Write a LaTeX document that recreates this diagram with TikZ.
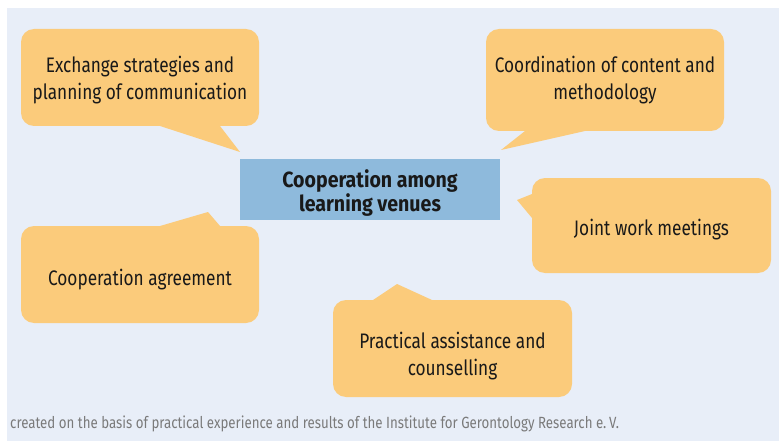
\documentclass[tikz,border=0pt]{standalone}
\usepackage{fontspec}
\setmainfont[FakeStretch=0.82]{Fira Sans}
\newfontfamily\hubfont[FakeStretch=0.89]{Fira Sans}
\definecolor{bgblue}{HTML}{E8EEF8}
\definecolor{calloutfill}{HTML}{FBCB7B}
\definecolor{hubfill}{HTML}{8EBADC}
\definecolor{capgrey}{HTML}{7A7A7A}
\tikzset{
    callout/.style={fill=calloutfill, rounded corners=13pt, inner sep=0pt, align=center,
        text depth=0pt, font=\fontsize{21}{27}\selectfont, text=black!90},
    tail/.style={fill=calloutfill},
    hub/.style={fill=hubfill, inner sep=0pt, align=center, text depth=0pt,
        font=\hubfont\fontsize{22}{24.5}\selectfont\bfseries, text=black!90},
}
\begin{document}
\begin{tikzpicture}[x=1pt, y=-1pt]
            \useasboundingbox (0,0) rectangle (779,441);
            % Background panel
            \fill[bgblue] (7,8) rectangle (779,441);

            % Tails of the callouts (all pointing at the hub)
            \fill[tail] (160,122) -- (160,126) -- (240,152) -- (220,126) -- (220,122) -- cycle;
            \fill[tail] (525,127) -- (525,131) -- (501,150) -- (585,131) -- (585,127) -- cycle;
            \fill[tail] (536,194) -- (532,194) -- (517,200) -- (532,218) -- (536,218) -- cycle;
            \fill[tail] (160,230) -- (160,226) -- (208,212) -- (220,226) -- (220,230) -- cycle;
            \fill[tail] (373,304) -- (373,300) -- (397,284) -- (432,300) -- (432,304) -- cycle;

            % Hub
            \node[hub, minimum width=260, minimum height=61, text height=44] (hub) at (370,189.5)
                {Cooperation among\\learning venues};

            % Callouts
            \node[callout, minimum width=238, minimum height=97, text height=45] (exchange) at (140,77.5)
                {Exchange strategies and\\planning of communication};
            \node[callout, minimum width=238, minimum height=102, text height=40] (coord) at (605,80)
                {Coordination of content and\\methodology};
            \node[callout, minimum width=239, minimum height=95, text height=19] (joint) at (651.5,225.5)
                {Joint work meetings};
            \node[callout, minimum width=238, minimum height=97, text height=21] (agree) at (140,274.5)
                {Cooperation agreement};
            \node[callout, minimum width=239, minimum height=97, text height=53] (practical) at (452.5,348.5)
                {Practical assistance and\\counselling};

            % Source line
            \node[anchor=base west, inner sep=0pt, text=capgrey, font=\fontsize{16.2}{18}\selectfont]
                (source) at (10,428) {created on the basis of practical experience and results of the Institute for Gerontology Research e.\,V.};
        \end{tikzpicture}
\end{document}
